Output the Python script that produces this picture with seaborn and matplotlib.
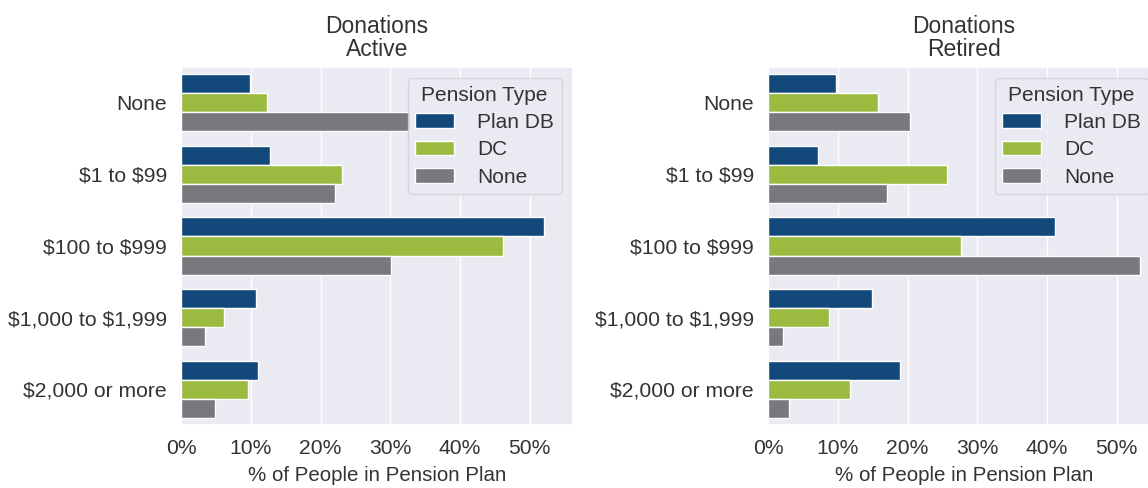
import matplotlib
matplotlib.use("Agg")
import matplotlib.pyplot as plt
import seaborn as sns
import pandas as pd
from matplotlib.ticker import PercentFormatter

categories = ["None", "$1 to $99", "$100 to $999", "$1,000 to $1,999", "$2,000 or more"]
pension_types = ["Plan DB", "DC", "None"]

active_db = [9.9, 12.8, 52.1, 10.8, 11.0]
active_dc = [12.4, 23.1, 46.1, 6.2, 9.6]
active_none = [32.9, 22.1, 30.1, 3.4, 4.9]

retired_db = [9.8, 7.2, 41.1, 14.9, 18.9]
retired_dc = [15.8, 25.6, 27.6, 8.7, 11.8]
retired_none = [20.4, 17.0, 53.4, 2.1, 3.0]

colors = ["#12497a", "#9bbb40", "#77797d"]


def long_df(db, dc, none):
    rows = []
    for ptype, vals in zip(pension_types, [db, dc, none]):
        for cat, v in zip(categories, vals):
            rows.append({"Donations": cat, "Pension Type": ptype, "pct": v})
    return pd.DataFrame(rows)


sns.set_theme(style="darkgrid")
plt.rcParams["font.family"] = ["Liberation Sans", "DejaVu Sans"]
plt.rcParams["text.parse_math"] = False
plt.rcParams["text.color"] = "#333333"
plt.rcParams["axes.labelcolor"] = "#333333"
plt.rcParams["xtick.color"] = "#333333"
plt.rcParams["ytick.color"] = "#333333"

W, H = 1148, 488
fig = plt.figure(figsize=(W / 100, H / 100), dpi=100)
ax1 = fig.add_axes([181 / W, (H - 425) / H, 392 / W, 358 / H])
ax2 = fig.add_axes([768 / W, (H - 425) / H, 392 / W, 358 / H])

for ax, data, title in [
    (ax1, long_df(active_db, active_dc, active_none), "Donations\nActive"),
    (ax2, long_df(retired_db, retired_dc, retired_none), "Donations\nRetired"),
]:
    sns.barplot(data=data, y="Donations", x="pct", hue="Pension Type",
                hue_order=pension_types, order=categories, palette=colors,
                orient="h", ax=ax, edgecolor="white", linewidth=1, saturation=1)
    ax.set_xlim(0, 56.2)
    ax.set_xticks([0, 10, 20, 30, 40, 50])
    ax.xaxis.set_major_formatter(PercentFormatter(xmax=100, decimals=0))
    ax.set_xlabel("% of People in Pension Plan", fontsize=14.8, labelpad=6)
    ax.set_ylabel("")
    ax.set_title(title, fontsize=16.5, linespacing=1.0, pad=8)
    ax.tick_params(axis="both", labelsize=15.2, pad=4)
    leg = ax.legend(title="Pension Type", loc="upper right", fontsize=15,
                    title_fontsize=15, frameon=True, borderaxespad=0.55,
                    borderpad=0.35, handlelength=1.9, labelspacing=0.4,
                    handletextpad=1.1)
    leg.get_frame().set_facecolor("#eaeaf2")
    leg.get_frame().set_edgecolor("#d0d0d8")

fig.savefig("out.png", dpi=100)
